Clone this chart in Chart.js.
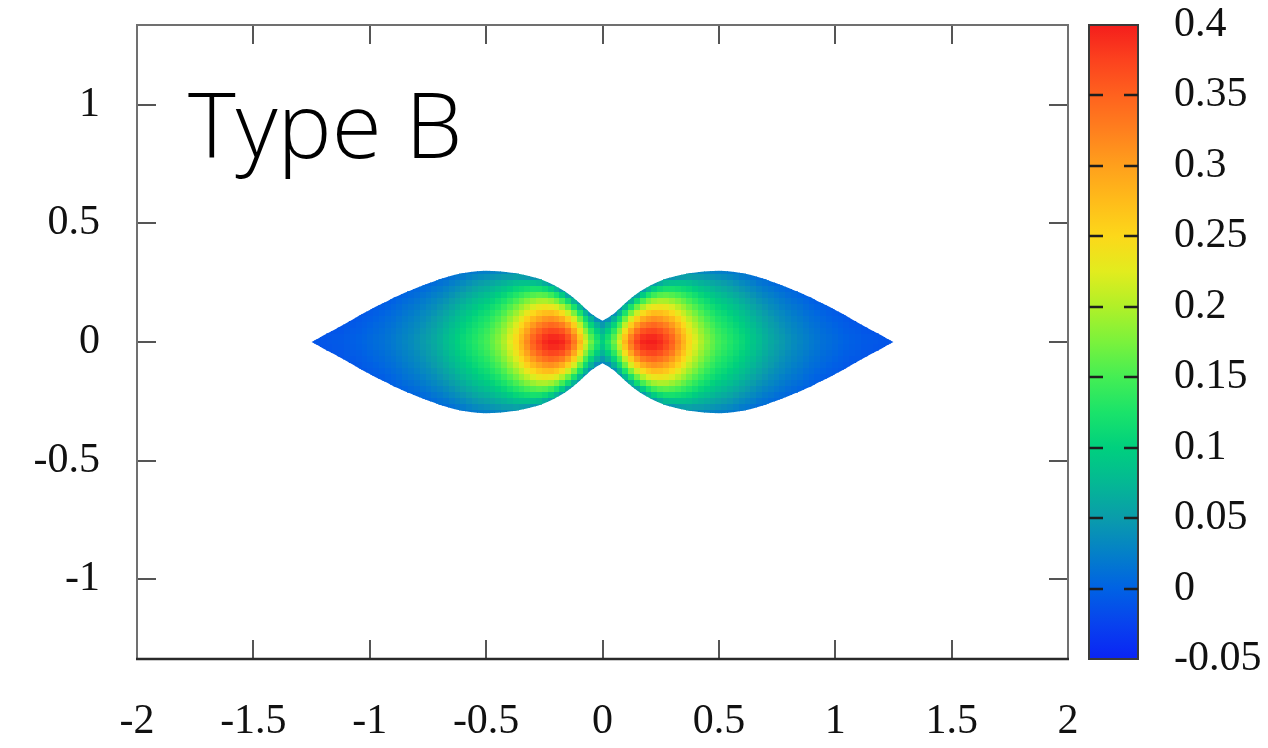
<!DOCTYPE html>
<html>
<head>
<meta charset="utf-8">
<title>Type B</title>
<script src="https://cdn.jsdelivr.net/npm/chart.js@4.4.1/dist/chart.umd.min.js"></script>
<style>
  html, body { margin: 0; padding: 0; background: #fff; }
  #wrap { width: 1268px; height: 748px; }
</style>
</head>
<body>
<div id="wrap"><canvas id="c" width="1268" height="748"></canvas></div>
<script>
// Field. The plot is symmetric about both axes, so only
// the quadrant x >= 0, y >= 0 is kept; columns follow gridX, rows follow gridY.
const gridX = [0, 0.025, 0.05, 0.075, 0.1, 0.125, 0.15, 0.175, 0.2, 0.225, 0.25, 0.275, 0.3,
  0.325, 0.35, 0.375, 0.4, 0.425, 0.45, 0.475, 0.5, 0.525, 0.55, 0.575, 0.6, 0.625, 0.65,
  0.675, 0.7, 0.725, 0.75, 0.775, 0.8, 0.825, 0.85, 0.875, 0.9, 0.925, 0.95, 0.975, 1,
  1.025, 1.05, 1.075, 1.1, 1.125, 1.15, 1.175, 1.2, 1.225, 1.25];
const gridY = [0, 0.025, 0.05, 0.075, 0.1, 0.125, 0.15, 0.175, 0.2, 0.225, 0.25, 0.275, 0.3];

// Upper edge of the shape at each gridX (mirrored for the lower edge / left side).
const halfHeight = [0.09, 0.103, 0.12, 0.142, 0.165, 0.186, 0.205, 0.221, 0.235, 0.247, 0.258,
  0.267, 0.274, 0.28, 0.285, 0.29, 0.293, 0.296, 0.298, 0.299, 0.3, 0.299, 0.297, 0.294, 0.29,
  0.285, 0.279, 0.272, 0.264, 0.255, 0.246, 0.237, 0.227, 0.217, 0.207, 0.196, 0.185, 0.172,
  0.16, 0.148, 0.135, 0.122, 0.108, 0.094, 0.08, 0.066, 0.053, 0.04, 0.027, 0.013, 0];

const fieldCols = [
  [0.10, 0.090, 0.071, 0.047, 0.03],
  [0.13, 0.118, 0.098, 0.07, 0.038, 0.034],
  [0.17, 0.157, 0.134, 0.105, 0.07, 0.038],
  [0.22, 0.207, 0.183, 0.151, 0.114, 0.072, 0.041],
  [0.28, 0.266, 0.241, 0.208, 0.169, 0.125, 0.076, 0.045],
  [0.335, 0.322, 0.295, 0.26, 0.22, 0.175, 0.124, 0.071, 0.046],
  [0.375, 0.362, 0.337, 0.301, 0.26, 0.215, 0.167, 0.115, 0.059, 0.048],
  [0.395, 0.385, 0.362, 0.328, 0.289, 0.246, 0.2, 0.15, 0.096, 0.049],
  [0.40, 0.391, 0.37, 0.34, 0.305, 0.265, 0.222, 0.175, 0.125, 0.072, 0.05],
  [0.40, 0.392, 0.372, 0.345, 0.312, 0.275, 0.234, 0.191, 0.145, 0.096, 0.05],
  [0.392, 0.383, 0.364, 0.337, 0.307, 0.273, 0.237, 0.198, 0.157, 0.112, 0.065, 0.05],
  [0.375, 0.366, 0.348, 0.324, 0.295, 0.265, 0.232, 0.197, 0.16, 0.12, 0.078, 0.048],
  [0.352, 0.344, 0.328, 0.305, 0.279, 0.25, 0.221, 0.189, 0.156, 0.121, 0.083, 0.045],
  [0.318, 0.311, 0.297, 0.278, 0.256, 0.231, 0.205, 0.178, 0.149, 0.117, 0.085, 0.05, 0.043],
  [0.285, 0.279, 0.267, 0.25, 0.231, 0.21, 0.189, 0.165, 0.139, 0.112, 0.084, 0.053, 0.041],
  [0.25, 0.245, 0.235, 0.222, 0.207, 0.19, 0.171, 0.151, 0.129, 0.106, 0.081, 0.055, 0.039],
  [0.225, 0.22, 0.212, 0.2, 0.187, 0.172, 0.155, 0.137, 0.118, 0.097, 0.075, 0.052, 0.035],
  [0.2, 0.196, 0.188, 0.179, 0.167, 0.154, 0.14, 0.124, 0.107, 0.089, 0.07, 0.051, 0.033],
  [0.18, 0.176, 0.17, 0.161, 0.151, 0.139, 0.126, 0.113, 0.098, 0.082, 0.065, 0.047, 0.03],
  [0.165, 0.162, 0.156, 0.148, 0.138, 0.128, 0.116, 0.103, 0.09, 0.075, 0.06, 0.044, 0.028],
  [0.15, 0.147, 0.142, 0.134, 0.126, 0.116, 0.106, 0.094, 0.082, 0.069, 0.055, 0.04, 0.025],
  [0.14, 0.137, 0.132, 0.125, 0.118, 0.109, 0.099, 0.088, 0.076, 0.064, 0.051, 0.037, 0.023],
  [0.13, 0.127, 0.123, 0.116, 0.109, 0.1, 0.091, 0.081, 0.07, 0.059, 0.046, 0.033, 0.02],
  [0.12, 0.117, 0.113, 0.107, 0.1, 0.092, 0.083, 0.073, 0.063, 0.052, 0.04, 0.028, 0.018],
  [0.11, 0.108, 0.103, 0.098, 0.091, 0.083, 0.075, 0.065, 0.056, 0.045, 0.034, 0.022, 0.015],
  [0.1, 0.098, 0.094, 0.088, 0.082, 0.075, 0.067, 0.058, 0.049, 0.039, 0.029, 0.018, 0.013],
  [0.09, 0.088, 0.084, 0.079, 0.073, 0.066, 0.059, 0.051, 0.042, 0.033, 0.023, 0.013, 0.011],
  [0.08, 0.078, 0.074, 0.07, 0.064, 0.058, 0.051, 0.043, 0.035, 0.027, 0.017, 0.009],
  [0.07, 0.068, 0.065, 0.061, 0.056, 0.05, 0.044, 0.037, 0.029, 0.021, 0.013, 0.008],
  [0.062, 0.06, 0.057, 0.053, 0.049, 0.043, 0.037, 0.031, 0.024, 0.017, 0.009, 0.007],
  [0.055, 0.053, 0.05, 0.047, 0.042, 0.037, 0.032, 0.026, 0.019, 0.012, 0.006],
  [0.048, 0.047, 0.044, 0.04, 0.036, 0.032, 0.026, 0.021, 0.015, 0.008, 0.005],
  [0.041, 0.04, 0.037, 0.034, 0.03, 0.026, 0.021, 0.016, 0.01, 0.005, 0.004],
  [0.035, 0.034, 0.031, 0.029, 0.025, 0.021, 0.017, 0.012, 0.007, 0.003],
  [0.03, 0.029, 0.027, 0.024, 0.021, 0.017, 0.013, 0.008, 0.003, 0.002],
  [0.025, 0.024, 0.022, 0.019, 0.016, 0.012, 0.008, 0.004, 0],
  [0.02, 0.019, 0.017, 0.014, 0.011, 0.008, 0.004, 0, -0.002],
  [0.016, 0.015, 0.013, 0.011, 0.008, 0.004, 0.001, -0.003],
  [0.012, 0.011, 0.009, 0.007, 0.004, 0.001, -0.003, -0.004],
  [0.009, 0.008, 0.006, 0.004, 0.001, -0.002, -0.005],
  [0.006, 0.005, 0.003, 0.001, -0.002, -0.005, -0.006],
  [0.003, 0.002, 0, -0.002, -0.004, -0.007],
  [0, -0.001, -0.003, -0.005, -0.007, -0.008],
  [-0.002, -0.003, -0.005, -0.007, -0.009],
  [-0.004, -0.005, -0.006, -0.008, -0.009],
  [-0.006, -0.007, -0.009, -0.01],
  [-0.007, -0.008, -0.01, -0.01],
  [-0.008, -0.009, -0.011],
  [-0.009, -0.01, -0.011],
  [-0.01, -0.011],
  [-0.01, -0.012]
];

const xTicks = [-2, -1.5, -1, -0.5, 0, 0.5, 1, 1.5, 2];
const yTicks = [-1, -0.5, 0, 0.5, 1];
const cbTicks = [-0.05, 0, 0.05, 0.1, 0.15, 0.2, 0.25, 0.3, 0.35, 0.4];

// Palette sampled from the colour box.
const cmapValues = [-0.05, -0.025, 0, 0.025, 0.05, 0.075, 0.1, 0.125, 0.15, 0.175, 0.2,
  0.225, 0.25, 0.275, 0.3, 0.325, 0.35, 0.375, 0.4];
const cmapColors = ['#0a24f5', '#0842ee', '#0062e4', '#0480c8', '#0a9cab', '#04b894',
  '#00d07e', '#1ae36a', '#44ee54', '#7af23c', '#b0f028', '#e2ec1e', '#fcd81a', '#ffbc1a',
  '#ffa01c', '#ff801e', '#ff621e', '#fc421e', '#f41e1c'];

const hex = c => [1, 3, 5].map(k => parseInt(c.slice(k, k + 2), 16));
const cmapRgb = cmapColors.map(hex);
function colorFor(v) {
  const n = cmapValues.length;
  if (v <= cmapValues[0]) return cmapColors[0];
  if (v >= cmapValues[n - 1]) return cmapColors[n - 1];
  let k = 1;
  while (cmapValues[k] < v) k++;
  const f = (v - cmapValues[k - 1]) / (cmapValues[k] - cmapValues[k - 1]);
  const a = cmapRgb[k - 1], b = cmapRgb[k];
  return 'rgb(' + a.map((c, i) => Math.round(c + (b[i] - c) * f)).join(',') + ')';
}

// Cells for all four quadrants, taken from the quadrant table.
const cells = [];
fieldCols.forEach((col, i) => {
  col.forEach((v, j) => {
    const xs = i === 0 ? [gridX[i]] : [gridX[i], -gridX[i]];
    const ys = j === 0 ? [gridY[j]] : [gridY[j], -gridY[j]];
    xs.forEach(x => ys.forEach(y => cells.push({ x, y, v })));
  });
});

// Shape outline: upper edge left -> right, lower edge right -> left.
const outline = [];
for (let i = gridX.length - 1; i >= 0; i--) outline.push([-gridX[i], halfHeight[i]]);
for (let i = 1; i < gridX.length; i++) outline.push([gridX[i], halfHeight[i]]);
for (let i = gridX.length - 1; i >= 0; i--) outline.push([gridX[i], -halfHeight[i]]);
for (let i = 1; i < gridX.length; i++) outline.push([-gridX[i], -halfHeight[i]]);

const cellW = gridX[1] - gridX[0];
const cellH = gridY[1] - gridY[0];

const heatmapPlugin = {
  id: 'heatmap',
  beforeDatasetsDraw(chart) {
    const { ctx, chartArea: a, scales: { x, y } } = chart;
    ctx.save();
    ctx.beginPath();
    ctx.rect(a.left, a.top, a.width, a.height);
    ctx.clip();
    ctx.beginPath();
    outline.forEach(([px, py], k) => {
      const X = x.getPixelForValue(px), Y = y.getPixelForValue(py);
      if (k) ctx.lineTo(X, Y); else ctx.moveTo(X, Y);
    });
    ctx.closePath();
    ctx.clip();
    chart.data.datasets[0].data.forEach(c => {
      const l = Math.floor(x.getPixelForValue(c.x - cellW / 2));
      const r = Math.ceil(x.getPixelForValue(c.x + cellW / 2));
      const t = Math.floor(y.getPixelForValue(c.y + cellH / 2));
      const b = Math.ceil(y.getPixelForValue(c.y - cellH / 2));
      ctx.fillStyle = colorFor(c.v);
      ctx.fillRect(l, t, r - l, b - t);
    });
    ctx.restore();
  }
};

const framePlugin = {
  id: 'frame',
  afterDraw(chart) {
    const { ctx, chartArea: a, scales: { x, y, cb } } = chart;
    const tick = 19;
    ctx.save();
    // inward tick marks on all four sides
    ctx.strokeStyle = '#555';
    ctx.lineWidth = 2;
    ctx.beginPath();
    xTicks.filter(v => v > x.min && v < x.max).forEach(v => {
      const X = Math.round(x.getPixelForValue(v));
      ctx.moveTo(X, a.bottom); ctx.lineTo(X, a.bottom - tick);
      ctx.moveTo(X, a.top); ctx.lineTo(X, a.top + tick);
    });
    yTicks.forEach(v => {
      const Y = Math.round(y.getPixelForValue(v));
      ctx.moveTo(a.left, Y); ctx.lineTo(a.left + tick, Y);
      ctx.moveTo(a.right, Y); ctx.lineTo(a.right - tick, Y);
    });
    ctx.stroke();
    // border
    ctx.strokeStyle = '#707070';
    ctx.lineWidth = 2;
    ctx.strokeRect(a.left, a.top, a.width, a.height);
    ctx.strokeStyle = '#2a2a2a';
    ctx.lineWidth = 2.5;
    ctx.beginPath();
    ctx.moveTo(a.left - 1, a.bottom); ctx.lineTo(a.right + 1, a.bottom);
    ctx.stroke();

    // colour box
    const cbLeft = cb.left + 21, cbW = 49;
    const top = cb.getPixelForValue(cb.max), bot = cb.getPixelForValue(cb.min);
    const grad = ctx.createLinearGradient(0, bot, 0, top);
    cmapValues.forEach((v, k) => {
      grad.addColorStop((cb.getPixelForValue(v) - bot) / (top - bot), cmapColors[k]);
    });
    ctx.fillStyle = grad;
    ctx.fillRect(cbLeft, top, cbW, bot - top);
    ctx.strokeStyle = '#3a3a3a';
    ctx.lineWidth = 2;
    ctx.strokeRect(cbLeft, top, cbW, bot - top);
    ctx.strokeStyle = '#1e1e1e';
    ctx.lineWidth = 2.5;
    ctx.beginPath();
    cbTicks.filter(v => v > cb.min && v < cb.max).forEach(v => {
      const Y = Math.round(cb.getPixelForValue(v));
      ctx.moveTo(cbLeft, Y); ctx.lineTo(cbLeft + 14, Y);
      ctx.moveTo(cbLeft + cbW - 14, Y); ctx.lineTo(cbLeft + cbW, Y);
    });
    ctx.stroke();

    // panel label
    ctx.fillStyle = '#000';
    ctx.font = "300 91px 'Open Sans', 'Noto Sans', sans-serif";
    ctx.textAlign = 'left';
    ctx.textBaseline = 'alphabetic';
    ctx.fillText('Type B', a.left + 51, a.top + 133);
    ctx.restore();
  }
};

const labelFont = { family: "'Liberation Serif', 'Times New Roman', serif", size: 42 };
const fmt = v => String(v);
const setTicks = list => s => { s.ticks = list.map(v => ({ value: v })); };
// fixed box sizes; the label padding must not grow the chart-area margins
const fixBox = (w, h) => s => {
  if (w) s.width = w;
  if (h) s.height = h;
  s.paddingTop = 0; s.paddingBottom = 0; s.paddingLeft = 0; s.paddingRight = 0;
};

new Chart(document.getElementById('c'), {
  type: 'scatter',
  data: { datasets: [{ label: 'field', data: cells, pointRadius: 0, pointHoverRadius: 0 }] },
  options: {
    responsive: false,
    animation: false,
    events: [],
    layout: { padding: { top: 25, left: 0, right: 0, bottom: 0 } },
    plugins: { legend: { display: false }, tooltip: { enabled: false } },
    scales: {
      x: {
        type: 'linear', position: 'bottom', min: -2, max: 2,
        grid: { display: false, drawTicks: false }, border: { display: false },
        afterBuildTicks: setTicks(xTicks),
        afterFit: fixBox(0, 89),
        ticks: { font: labelFont, color: '#111', padding: 38, maxRotation: 0, autoSkip: false, callback: fmt }
      },
      y: {
        type: 'linear', position: 'left', min: -1.335, max: 1.335,
        grid: { display: false, drawTicks: false }, border: { display: false },
        afterBuildTicks: setTicks(yTicks),
        afterFit: fixBox(137, 0),
        ticks: { font: labelFont, color: '#111', padding: 37, autoSkip: false, callback: fmt }
      },
      cb: {
        type: 'linear', position: 'right', min: -0.05, max: 0.4,
        grid: { display: false, drawTicks: false }, border: { display: false },
        afterBuildTicks: setTicks(cbTicks),
        afterFit: fixBox(200, 0),
        ticks: { font: labelFont, color: '#111', padding: 106, autoSkip: false, callback: fmt }
      }
    }
  },
  plugins: [heatmapPlugin, framePlugin]
});
</script>
</body>
</html>
